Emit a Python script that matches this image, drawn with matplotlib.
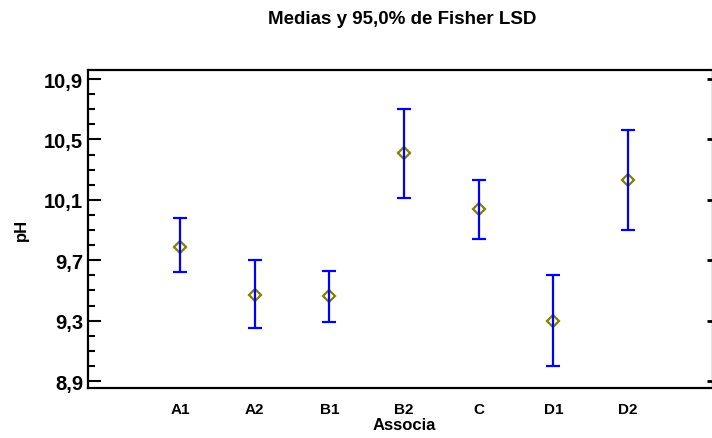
import matplotlib
matplotlib.use("Agg")
import matplotlib.pyplot as plt
from matplotlib.ticker import FixedLocator, MultipleLocator, NullFormatter

plt.rcParams['font.family'] = ['Liberation Sans', 'DejaVu Sans']

categories = ["A1", "A2", "B1", "B2", "C", "D1", "D2"]
means = [9.79, 9.47, 9.46, 10.41, 10.04, 9.30, 10.23]
lower = [9.62, 9.25, 9.29, 10.11, 9.84, 9.00, 9.90]
upper = [9.98, 9.70, 9.63, 10.70, 10.23, 9.60, 10.56]
yticks = [8.9, 9.3, 9.7, 10.1, 10.5, 10.9]
ytick_labels = ["8,9", "9,3", "9,7", "10,1", "10,5", "10,9"]

fig = plt.figure(figsize=(7.12, 4.39), dpi=100)
ax = fig.add_axes([88/712, (439-389.3)/439, (713-88)/712, (389.3-71)/439])

pos = list(range(1, len(categories) + 1))
err_lo = [m - l for m, l in zip(means, lower)]
err_hi = [u - m for m, u in zip(means, upper)]

ax.plot(pos, means, linestyle='none', marker='D', markersize=6.3,
        markerfacecolor='none', markeredgecolor='#808000', markeredgewidth=1.6, zorder=2)
ax.errorbar(pos, means, yerr=[err_lo, err_hi], fmt='none', ecolor='#0000FF',
            elinewidth=1.6, capsize=5.2, capthick=1.6, zorder=3)

ax.set_xlim(-0.232, 8.138)
ax.set_ylim(8.852, 10.96)

ax.set_xticks(pos)
ax.set_xticklabels(categories, fontsize=11, fontweight='bold')
ax.tick_params(axis='x', length=0, pad=10)

ax.yaxis.set_major_locator(FixedLocator(yticks))
ax.set_yticklabels(ytick_labels, fontsize=14.5, fontweight='bold')
ax.yaxis.set_minor_locator(MultipleLocator(0.1))
ax.tick_params(axis='y', which='major', direction='in', length=9, width=1.5,
               left=True, right=False, pad=3.5)
ax.tick_params(axis='y', which='minor', direction='in', length=5, width=1.5,
               left=True, right=False)

sec = ax.secondary_yaxis('right')
sec.yaxis.set_major_locator(FixedLocator(yticks))
sec.yaxis.set_major_formatter(NullFormatter())
sec.tick_params(axis='y', which='major', direction='in', length=4, width=2)
sec.tick_params(axis='y', which='minor', length=0)
sec.spines['right'].set_visible(False)

for s in ax.spines.values():
    s.set_linewidth(1.6)
    s.set_color('black')

ax.set_ylabel("pH", fontsize=12, fontweight='bold')
ax.yaxis.set_label_coords(-0.095, 0.5)
ax.set_xlabel("Associa", fontsize=12, fontweight='bold')
ax.xaxis.set_label_coords((404-88)/625, -0.089)

fig.text(402/712, 1 - 19/439, "Medias y 95,0% de Fisher LSD", fontsize=13.5,
         fontweight='bold', ha='center', va='center')

fig.savefig("out.png", dpi=100)
